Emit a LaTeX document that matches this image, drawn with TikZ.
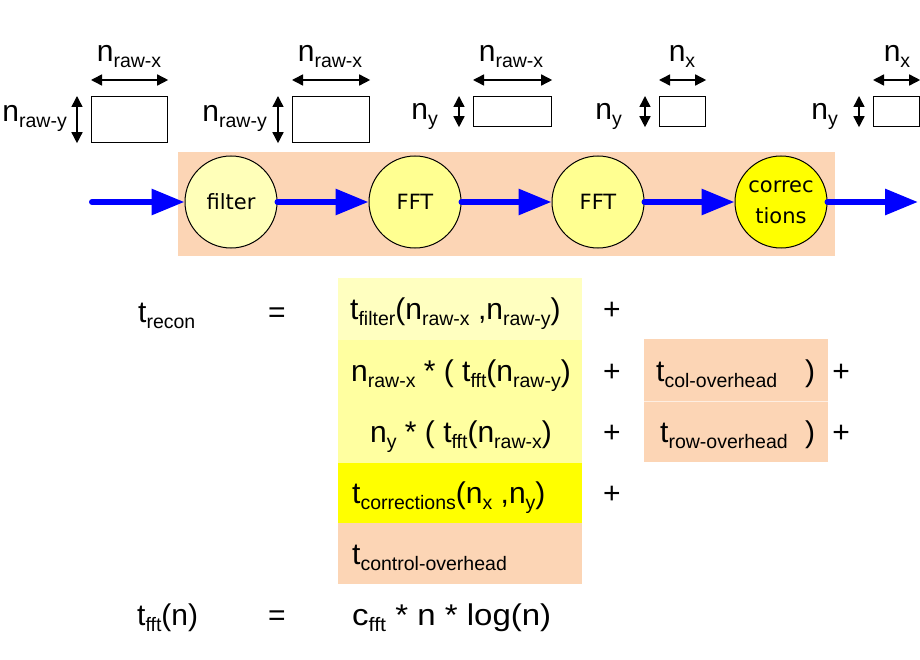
\documentclass[tikz,border=0pt]{standalone}
\usepackage{fontspec}
\setmainfont{Liberation Sans}
\newfontfamily\circfont{DejaVu Sans}
\usetikzlibrary{arrows.meta}
\definecolor{peach}{RGB}{252,213,181}
\definecolor{paleA}{RGB}{255,255,192}
\definecolor{paleB}{RGB}{255,255,160}
\definecolor{corrY}{RGB}{255,255,0}
\definecolor{filtY}{RGB}{255,255,185}
\definecolor{fftY}{RGB}{255,255,145}
\newcommand\mainsz{\fontsize{30}{34}\selectfont}
\newcommand\subsz{\fontsize{19.5}{20}\selectfont}
\newcommand\sbx[2]{#1\raisebox{-6pt}{\subsz #2}}
\begin{document}
\begin{tikzpicture}[x=1pt,y=-1pt,
  proc/.style={circle, draw=black, line width=1pt, minimum size=92pt, inner sep=0pt,
    font=\circfont\fontsize{21}{31}\selectfont, align=center},
  flow/.style={draw=blue, line width=6pt, line cap=round, -{Triangle[length=33pt,width=25pt]}},
  dimarr/.style={{Triangle[length=11pt,width=11pt]}-{Triangle[length=11pt,width=11pt]}, line width=1.5pt},
  arrbox/.style={draw=black, line width=1.2pt, inner sep=0pt, anchor=north west},
  lbl/.style={font=\mainsz, inner sep=0pt},
  rowbox/.style={inner sep=0pt, minimum width=244pt}
]
\useasboundingbox (0,0) rectangle (920,660);

% background band
\fill[peach] (178,152) rectangle (835,256);

% processing nodes
\node[proc, fill=filtY] (filt) at (231,202) {filter};
\node[proc, fill=fftY] (fftA) at (415,202) {FFT};
\node[proc, fill=fftY] (fftB) at (598,202) {FFT};
\node[proc, fill=corrY] (corr) at (781,202) {correc\\tions};
\coordinate (in) at (92,202);
\coordinate (out) at (918,202);
\draw[flow] (in) -- (filt.west);
\draw[flow] (filt.east) -- (fftA.west);
\draw[flow] (fftA.east) -- (fftB.west);
\draw[flow] (fftB.east) -- (corr.west);
\draw[flow] (corr.east) -- (out);

% array shapes
\node[arrbox, minimum width=76pt, minimum height=46pt] (b1) at (91,96) {};
\node[arrbox, minimum width=77pt, minimum height=46pt] (b2) at (292,96) {};
\node[arrbox, minimum width=78pt, minimum height=30pt] (b3) at (473,96) {};
\node[arrbox, minimum width=46pt, minimum height=30pt] (b4) at (659,96) {};
\node[arrbox, minimum width=46pt, minimum height=30pt] (b5) at (873,96) {};
\foreach \b in {b1,b2,b3,b4,b5}{
  \draw[dimarr] ([yshift=16pt]\b.north west) -- ([yshift=16pt]\b.north east);
  \draw[dimarr] ([xshift=-14pt]\b.north west) -- ([xshift=-14pt]\b.south west);
}
\node[lbl, anchor=base] (l1x) at (129,62) {\sbx{n}{raw-x}};
\node[lbl, anchor=base east] (l1y) at (67,122) {\sbx{n}{raw-y}};
\node[lbl, anchor=base] (l2x) at (330,62) {\sbx{n}{raw-x}};
\node[lbl, anchor=base east] (l2y) at (267,122) {\sbx{n}{raw-y}};
\node[lbl, anchor=base] (l3x) at (511,62) {\sbx{n}{raw-x}};
\node[lbl, anchor=base east] (l3y) at (438,120) {\sbx{n}{y}};
\node[lbl, anchor=base] (l4x) at (682,62) {\sbx{n}{x}};
\node[lbl, anchor=base east] (l4y) at (622,120) {\sbx{n}{y}};
\node[lbl, anchor=base] (l5x) at (897,62) {\sbx{n}{x}};
\node[lbl, anchor=base east] (l5y) at (838,120) {\sbx{n}{y}};

% formula stack
\node[rowbox, fill=paleA, minimum height=62pt] (r1) at (460,309) {};
\node[rowbox, fill=paleB, minimum height=62pt] (r2) at (460,371) {};
\node[rowbox, fill=paleB, minimum height=61pt] (r3) at (460,432.5) {};
\node[rowbox, fill=corrY, minimum height=60pt] (r4) at (460,493) {};
\node[rowbox, fill=peach, minimum height=61pt] (r5) at (460,553.5) {};
\node[inner sep=0pt, minimum width=184pt, minimum height=62pt, fill=peach] (s1) at (736,370) {};
\node[inner sep=0pt, minimum width=184pt, minimum height=61pt, fill=peach] (s2) at (736,431.5) {};
\draw[white!60!peach, line width=0.8pt] (s1.south west) -- (s1.south east);

\node[lbl, anchor=base west] (trec) at (138,322) {\sbx{t}{recon}};
\node[lbl, anchor=base] (eq1) at (277,322) {=};
\node[lbl, anchor=base west] (e1) at (350,319) {\sbx{t}{filter}(\sbx{n}{raw-x} ,\sbx{n}{raw-y})};
\node[lbl, anchor=base west] (e2) at (351,381) {\sbx{n}{raw-x} * ( \sbx{t}{fft}(\sbx{n}{raw-y})};
\node[lbl, anchor=base] (e3) at (461,442) {\sbx{n}{y} * ( \sbx{t}{fft}(\sbx{n}{raw-x})};
\node[lbl, anchor=base west] (e4) at (352,503) {\sbx{t}{corrections}(\sbx{n}{x} ,\sbx{n}{y})};
\node[lbl, anchor=base west] (e5) at (352,564) {\sbx{t}{control-overhead}};
\node[lbl, anchor=base] (p1) at (612,319) {+};
\node[lbl, anchor=base] (p2) at (612,381) {+};
\node[lbl, anchor=base] (p3) at (612,442) {+};
\node[lbl, anchor=base] (p4) at (612,503) {+};
\node[lbl, anchor=base west] (c1) at (656,381) {\sbx{t}{col-overhead}};
\node[lbl, anchor=base west] (c2) at (660,442) {\sbx{t}{row-overhead}};
\node[lbl, anchor=base] (k1) at (810,381) {)};
\node[lbl, anchor=base] (k2) at (810,442) {)};
\node[lbl, anchor=base] (q1) at (841,381) {+};
\node[lbl, anchor=base] (q2) at (841,442) {+};

\node[lbl, anchor=base west] (tfft) at (137,625) {\sbx{t}{fft}(n)};
\node[lbl, anchor=base] (eq2) at (277,625) {=};
\node[lbl, anchor=base west] (cf) at (352,625) {\scalebox{1.1}[1]{\sbx{c}{fft} * n * log(n)}};
\end{tikzpicture}
\end{document}
